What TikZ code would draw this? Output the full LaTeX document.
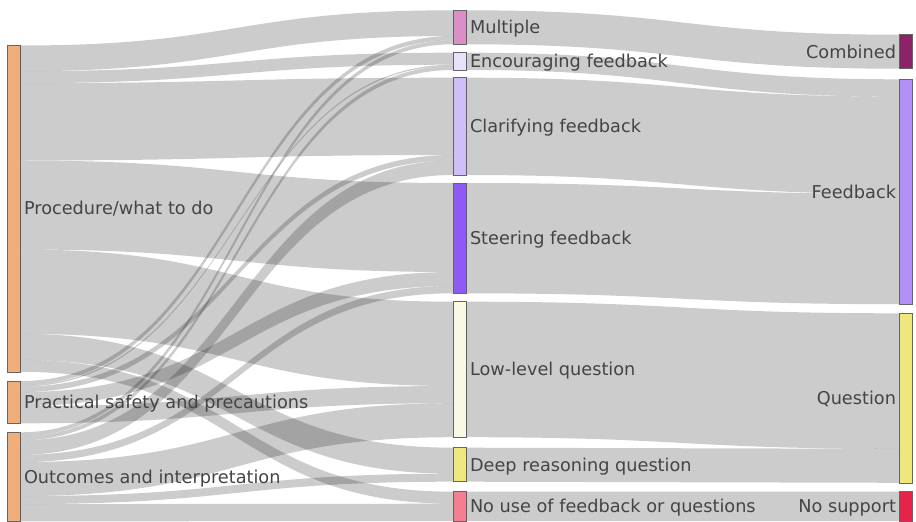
\documentclass[tikz,border=0pt]{standalone}
\usepackage{fontspec}
\setmainfont{DejaVu Sans}
\usetikzlibrary{calc}
\definecolor{txt}{HTML}{444444}
\definecolor{cTopic}{HTML}{EFAE7A}
\definecolor{cMult}{HTML}{DB8FC7}
\definecolor{cEnc}{HTML}{E9E1FB}
\definecolor{cClar}{HTML}{D0BEF8}
\definecolor{cSteer}{HTML}{8E5AF6}
\definecolor{cLow}{HTML}{FAF9E5}
\definecolor{cDeep}{HTML}{EEE87E}
\definecolor{cNoUse}{HTML}{F47F90}
\definecolor{cComb}{HTML}{8A2466}
\definecolor{cFb}{HTML}{B18FF8}
\definecolor{cQu}{HTML}{EEE77C}
\definecolor{cNs}{HTML}{E6234A}
% flow: source, target, offset at source, offset at target, width
\newcommand\sflow[5]{%
  \fill[flowst] let \p1=($(#1.north east)+(0,#3)$), \p2=($(#2.north west)+(0,#4)$) in
  (\p1) .. controls ({(\x1+\x2)/2},\y1) and ({(\x1+\x2)/2},\y2) .. (\p2)
  -- (\x2,{\y2-#5pt})
  .. controls ({(\x1+\x2)/2},{\y2-#5pt}) and ({(\x1+\x2)/2},{\y1-#5pt}) .. (\x1,{\y1-#5pt})
  -- cycle;}
\begin{document}
\begin{tikzpicture}[x=1pt,y=-1pt,
  bar/.style={draw=black!60, line width=0.5pt, inner sep=0pt, outer sep=0pt,
    anchor=north west, minimum width=13.5pt},
  flowst/.style={fill=black, fill opacity=0.2},
  lbl/.style={text=txt, font=\fontsize{17.7}{20}\selectfont, inner sep=0pt, outer sep=0pt}]
\useasboundingbox (0,0) rectangle (916,522);
% left column
\node[bar, fill=cTopic, minimum height=326.3pt] (P) at (7,45.5) {};
\node[bar, fill=cTopic, minimum height=42.3pt] (S) at (7,381) {};
\node[bar, fill=cTopic, minimum height=89.1pt] (O) at (7,432.3) {};
% middle column
\node[bar, fill=cMult, minimum height=34pt] (Mu) at (453,10.3) {};
\node[bar, fill=cEnc, minimum height=17.3pt] (En) at (453,52.7) {};
\node[bar, fill=cClar, minimum height=97.3pt] (Cl) at (453,77.7) {};
\node[bar, fill=cSteer, minimum height=110.3pt] (St) at (453,183) {};
\node[bar, fill=cLow, minimum height=135.5pt] (Lo) at (453,301.7) {};
\node[bar, fill=cDeep, minimum height=34pt] (De) at (453,447.7) {};
\node[bar, fill=cNoUse, minimum height=29.3pt] (No) at (453,491.7) {};
% right column
\node[bar, fill=cComb, minimum height=34pt] (Co) at (899,34.7) {};
\node[bar, fill=cFb, minimum height=224.9pt] (Fb) at (899,79.3) {};
\node[bar, fill=cQu, minimum height=169.5pt] (Qu) at (899,313.3) {};
\node[bar, fill=cNs, minimum height=29.3pt] (Ns) at (899,491.7) {};
% flows from Procedure
\sflow{P}{Mu}{0}{0}{25.7}
\sflow{P}{En}{25.7}{0}{12}
\sflow{P}{Cl}{37.7}{0}{77.3}
\sflow{P}{St}{115}{0}{89}
\sflow{P}{Lo}{204}{0}{84.3}
\sflow{P}{De}{288.3}{0}{26}
\sflow{P}{No}{314.3}{0}{12}
% flows from Practical safety
\sflow{S}{Mu}{0}{25.7}{4.3}
\sflow{S}{En}{4.3}{12}{1.3}
\sflow{S}{Cl}{5.6}{77.3}{5.5}
\sflow{S}{St}{11.1}{89}{14}
\sflow{S}{Lo}{25.1}{84.3}{17.2}
% flows from Outcomes
\sflow{O}{Mu}{0}{30}{4}
\sflow{O}{En}{4}{13.3}{4}
\sflow{O}{Cl}{8}{82.8}{14.5}
\sflow{O}{St}{22.5}{103}{7.3}
\sflow{O}{Lo}{29.8}{101.5}{34}
\sflow{O}{De}{63.8}{26}{8}
\sflow{O}{No}{71.8}{12}{17.3}
% flows to right column
\sflow{Mu}{Co}{0}{0}{34}
\sflow{En}{Fb}{0}{0}{17.3}
\sflow{Cl}{Fb}{0}{17.3}{97.3}
\sflow{St}{Fb}{0}{114.6}{110.3}
\sflow{Lo}{Qu}{0}{0}{135.5}
\sflow{De}{Qu}{0}{135.5}{34}
\sflow{No}{Ns}{0}{0}{29.3}
% labels
\node[lbl, anchor=base west] (tP) at ($(P.east)+(3.5,6.3)$) {Procedure/what to do};
\node[lbl, anchor=base west] (tS) at ($(S.east)+(3.5,6.3)$) {Practical safety and precautions};
\node[lbl, anchor=base west] (tO) at ($(O.east)+(3.5,6.3)$) {Outcomes and interpretation};
\node[lbl, anchor=base west] (tMu) at ($(Mu.east)+(3.5,6.3)$) {Multiple};
\node[lbl, anchor=base west] (tEn) at ($(En.east)+(3.5,6.3)$) {Encouraging feedback};
\node[lbl, anchor=base west] (tCl) at ($(Cl.east)+(3.5,6.3)$) {Clarifying feedback};
\node[lbl, anchor=base west] (tSt) at ($(St.east)+(3.5,6.3)$) {Steering feedback};
\node[lbl, anchor=base west] (tLo) at ($(Lo.east)+(3.5,6.3)$) {Low-level question};
\node[lbl, anchor=base west] (tDe) at ($(De.east)+(3.5,6.3)$) {Deep reasoning question};
\node[lbl, anchor=base west] (tNo) at ($(No.east)+(3.5,6.3)$) {No use of feedback or questions};
\node[lbl, anchor=base east] (tCo) at ($(Co.west)+(-3,6.3)$) {Combined};
\node[lbl, anchor=base east] (tFb) at ($(Fb.west)+(-3,6.3)$) {Feedback};
\node[lbl, anchor=base east] (tQu) at ($(Qu.west)+(-3,6.3)$) {Question};
\node[lbl, anchor=base east] (tNs) at ($(Ns.west)+(-3,6.3)$) {No support};
\end{tikzpicture}
\end{document}
